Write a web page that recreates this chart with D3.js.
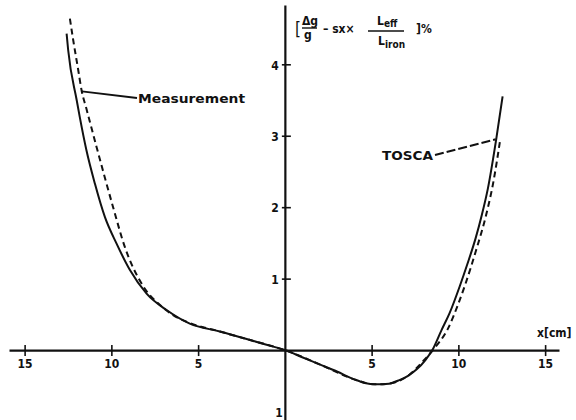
<!DOCTYPE html>
<html>
<head>
<meta charset="utf-8">
<script src="https://cdn.jsdelivr.net/npm/d3@7"></script>
<style>
  body { margin: 0; background: #fff; }
  svg { display: block; }
  text { font-family: "DejaVu Sans Condensed", "DejaVu Sans", sans-serif; fill: #111; }
</style>
</head>
<body>
<div id="chart"></div>
<script>
// values (x in cm, y in %)
const toscaX = [-12.58, -12.49, -12.0, -11.82, -11.44, -10.95, -10.37, -9.7, -8.93, -7.97, -6.82, -5.48, -3.75, -2, -1, 0, 1, 2, 3, 4, 4.6, 5.2, 6.0, 6.6, 7.1, 7.6, 8.1, 8.5, 9.03, 9.5, 10.09, 10.5, 11.0, 11.34, 11.7, 12.2, 12.55];
const toscaY = [4.43, 4.2, 3.5, 3.26, 2.8, 2.33, 1.86, 1.49, 1.12, 0.79, 0.56, 0.37, 0.26, 0.14, 0.07, 0, -0.1, -0.2, -0.3, -0.41, -0.46, -0.48, -0.47, -0.42, -0.36, -0.27, -0.14, 0.0, 0.28, 0.52, 0.9, 1.19, 1.57, 1.88, 2.26, 2.98, 3.55];

const measX = [-12.39, -12.2, -11.91, -11.72, -11.44, -10.85, -9.9, -9.22, -8.26, -7.1, -6.44, -5.5, -3.75, -2, 0, 2, 4, 5.2, 6.0, 7.1, 8.1, 8.6, 9.4, 10.0, 10.4, 11.0, 11.62, 12.0, 12.39];
const measY = [4.64, 4.34, 3.92, 3.64, 3.38, 2.84, 2.0, 1.44, 0.93, 0.61, 0.49, 0.38, 0.26, 0.14, 0, -0.2, -0.41, -0.48, -0.47, -0.36, -0.12, 0.02, 0.3, 0.65, 0.92, 1.38, 1.91, 2.33, 2.91];

const xTicks = [-15, -10, -5, 5, 10, 15];
const yTicks = [-1, 1, 2, 3, 4];

const width = 576;
const height = 420;

const svg = d3
  .select("#chart")
  .append("svg")
  .attr("width", width)
  .attr("height", height);

const x = d3.scaleLinear().domain([-15.9, 15.8]).range([9, 559]);
const y = d3.scaleLinear().domain([-1.0, 4.83]).range([421.5, 5]);

// x axis through y = 0, ticks crossing the line
const gx = svg
  .append("g")
  .attr("transform", `translate(0,${y(0)})`)
  .call(d3.axisBottom(x).tickValues(xTicks).tickFormat((d) => Math.abs(d)).tickSizeOuter(0));
gx.select(".domain").attr("stroke", "#111").attr("stroke-width", 2.2);
gx.selectAll(".tick line").attr("y1", -5).attr("y2", 6).attr("stroke", "#111").attr("stroke-width", 1.6);
gx.selectAll(".tick text").attr("y", 9).attr("font-size", 12).attr("font-weight", "bold").style("font-family", null);

// y axis through x = 0
const gy = svg
  .append("g")
  .attr("transform", `translate(${x(0)},0)`)
  .call(d3.axisLeft(y).tickValues(yTicks).tickFormat((d) => (d < 0 ? "1" : d)).tickSizeOuter(0));
gy.select(".domain").attr("stroke", "#111").attr("stroke-width", 2.2);
gy.selectAll(".tick line").attr("x1", -3).attr("x2", 6).attr("stroke", "#111").attr("stroke-width", 1.6);
gy.selectAll(".tick text")
  .attr("x", (d) => (d < 0 ? -2 : -6))
  .attr("dy", (d) => (d < 0 ? "-0.45em" : "0.4em"))
  .attr("font-size", 12)
  .attr("font-weight", "bold")
  .style("font-family", null);

const line = (xs, ys) =>
  d3
    .line()
    .x((i) => x(xs[i]))
    .y((i) => y(ys[i]))
    .curve(d3.curveMonotoneX)(d3.range(xs.length));

// measurement (dashed) under the TOSCA curve (solid)
svg
  .append("path")
  .attr("d", line(measX, measY))
  .attr("fill", "none")
  .attr("stroke", "#111")
  .attr("stroke-width", 2)
  .attr("stroke-dasharray", "6,4");

svg
  .append("path")
  .attr("d", line(toscaX, toscaY))
  .attr("fill", "none")
  .attr("stroke", "#111")
  .attr("stroke-width", 2);

// labels and leaders
svg
  .append("line")
  .attr("x1", x(-11.7)).attr("y1", y(3.62))
  .attr("x2", 137).attr("y2", 98)
  .attr("stroke", "#111")
  .attr("stroke-width", 1.8);
svg
  .append("text")
  .attr("x", 138)
  .attr("y", 103)
  .attr("font-size", 13)
  .attr("font-weight", "bold")
  .attr("textLength", 107)
  .attr("lengthAdjust", "spacingAndGlyphs")
  .text("Measurement");

svg
  .append("line")
  .attr("x1", 435).attr("y1", 155)
  .attr("x2", x(12.15)).attr("y2", y(2.95))
  .attr("stroke", "#111")
  .attr("stroke-width", 2)
  .attr("stroke-dasharray", "9,3");
svg
  .append("text")
  .attr("x", 382)
  .attr("y", 160)
  .attr("font-size", 13)
  .attr("font-weight", "bold")
  .attr("textLength", 51)
  .attr("lengthAdjust", "spacingAndGlyphs")
  .text("TOSCA");

svg
  .append("text")
  .attr("x", 537)
  .attr("y", 337)
  .attr("font-size", 12)
  .attr("font-weight", "bold")
  .text("x[cm]");

// y axis title: [Δg/g − sx × Leff/Liron ]%
const t = svg.append("g").attr("font-size", 12).attr("font-weight", "bold");
t.append("text").attr("x", 295).attr("y", 35).attr("font-size", 17).attr("font-weight", "normal").text("[");
t.append("text").attr("x", 302).attr("y", 25).text("Δg");
t.append("line").attr("x1", 302).attr("x2", 317).attr("y1", 28).attr("y2", 28).attr("stroke", "#111").attr("stroke-width", 1.4);
t.append("text").attr("x", 304).attr("y", 39).text("g");
t.append("text").attr("x", 323).attr("y", 33).text("– sx×");
t.append("text").attr("x", 377).attr("y", 25).text("L");
t.append("text").attr("x", 384).attr("y", 27).attr("font-size", 10).text("eff");
t.append("line").attr("x1", 368).attr("x2", 404).attr("y1", 31).attr("y2", 31).attr("stroke", "#111").attr("stroke-width", 1.4);
t.append("text").attr("x", 378).attr("y", 45).text("L");
t.append("text").attr("x", 385).attr("y", 48).attr("font-size", 10).text("iron");
t.append("text").attr("x", 416).attr("y", 33).text("]%");
</script>
</body>
</html>
